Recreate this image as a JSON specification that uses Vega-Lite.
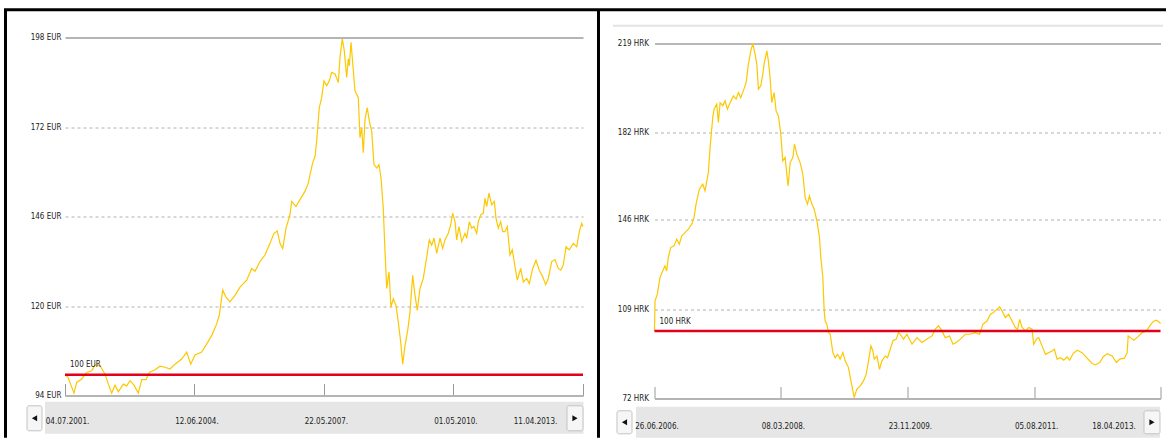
{
  "$schema": "https://vega.github.io/schema/vega-lite/v6.json",
  "background": "white",
  "padding": {"left": 2, "top": 7.5, "right": 0, "bottom": 0},
  "spacing": -4.5,
  "config": {"view": {"stroke": null}},
  "datasets": {
    "eur": [
      {"t":2001.504,"v":100.0},{"t":2001.572,"v":99.3},{"t":2001.708,"v":94.7},{"t":2001.770,"v":97.8},{"t":2001.883,"v":98.8},{"t":2001.997,"v":100.7},{"t":2002.111,"v":101.2},{"t":2002.186,"v":102.9},{"t":2002.299,"v":102.7},{"t":2002.413,"v":100.2},{"t":2002.488,"v":97.3},{"t":2002.565,"v":94.7},{"t":2002.640,"v":97.0},{"t":2002.715,"v":95.1},{"t":2002.829,"v":97.3},{"t":2002.906,"v":96.8},{"t":2002.981,"v":98.3},{"t":2003.072,"v":97.0},{"t":2003.170,"v":94.7},{"t":2003.247,"v":98.6},{"t":2003.344,"v":98.6},{"t":2003.419,"v":100.7},{"t":2003.549,"v":101.5},{"t":2003.663,"v":102.5},{"t":2003.776,"v":102.2},{"t":2003.890,"v":101.7},{"t":2004.003,"v":103.1},{"t":2004.156,"v":104.6},{"t":2004.269,"v":106.6},{"t":2004.360,"v":103.1},{"t":2004.458,"v":105.8},{"t":2004.610,"v":106.6},{"t":2004.724,"v":109.0},{"t":2004.837,"v":111.4},{"t":2004.951,"v":114.8},{"t":2005.010,"v":117.3},{"t":2005.087,"v":124.6},{"t":2005.162,"v":122.6},{"t":2005.253,"v":121.2},{"t":2005.367,"v":123.1},{"t":2005.480,"v":125.5},{"t":2005.633,"v":127.5},{"t":2005.746,"v":130.9},{"t":2005.821,"v":130.1},{"t":2005.935,"v":132.9},{"t":2006.048,"v":134.8},{"t":2006.162,"v":138.2},{"t":2006.253,"v":141.1},{"t":2006.328,"v":141.8},{"t":2006.389,"v":138.2},{"t":2006.451,"v":136.7},{"t":2006.526,"v":142.6},{"t":2006.616,"v":146.5},{"t":2006.655,"v":150.4},{"t":2006.753,"v":148.9},{"t":2006.844,"v":150.9},{"t":2006.957,"v":153.3},{"t":2007.032,"v":155.7},{"t":2007.071,"v":158.2},{"t":2007.132,"v":161.6},{"t":2007.185,"v":163.5},{"t":2007.223,"v":167.9},{"t":2007.282,"v":177.6},{"t":2007.337,"v":180.6},{"t":2007.389,"v":185.4},{"t":2007.450,"v":184.0},{"t":2007.509,"v":185.4},{"t":2007.564,"v":187.9},{"t":2007.639,"v":187.4},{"t":2007.714,"v":184.9},{"t":2007.753,"v":192.3},{"t":2007.805,"v":197.6},{"t":2007.850,"v":194.2},{"t":2007.905,"v":186.4},{"t":2007.941,"v":191.8},{"t":2007.964,"v":189.8},{"t":2008.003,"v":196.6},{"t":2008.055,"v":188.4},{"t":2008.093,"v":182.5},{"t":2008.168,"v":180.6},{"t":2008.207,"v":168.9},{"t":2008.246,"v":171.8},{"t":2008.282,"v":164.5},{"t":2008.321,"v":174.2},{"t":2008.373,"v":177.6},{"t":2008.418,"v":173.8},{"t":2008.473,"v":170.8},{"t":2008.525,"v":161.1},{"t":2008.587,"v":160.1},{"t":2008.639,"v":161.1},{"t":2008.684,"v":157.2},{"t":2008.736,"v":148.4},{"t":2008.775,"v":135.8},{"t":2008.814,"v":125.1},{"t":2008.866,"v":129.9},{"t":2008.911,"v":119.7},{"t":2008.964,"v":122.1},{"t":2009.025,"v":120.2},{"t":2009.077,"v":115.3},{"t":2009.132,"v":109.5},{"t":2009.177,"v":103.1},{"t":2009.229,"v":108.5},{"t":2009.291,"v":112.9},{"t":2009.343,"v":118.2},{"t":2009.404,"v":128.9},{"t":2009.457,"v":123.1},{"t":2009.509,"v":118.7},{"t":2009.570,"v":125.1},{"t":2009.645,"v":128.0},{"t":2009.723,"v":134.3},{"t":2009.782,"v":139.2},{"t":2009.836,"v":137.7},{"t":2009.889,"v":139.7},{"t":2009.950,"v":135.3},{"t":2010.025,"v":139.7},{"t":2010.086,"v":136.7},{"t":2010.138,"v":139.2},{"t":2010.213,"v":141.1},{"t":2010.268,"v":143.6},{"t":2010.313,"v":147.0},{"t":2010.366,"v":144.5},{"t":2010.404,"v":139.2},{"t":2010.456,"v":143.1},{"t":2010.518,"v":138.7},{"t":2010.593,"v":141.1},{"t":2010.632,"v":139.7},{"t":2010.691,"v":144.5},{"t":2010.745,"v":142.6},{"t":2010.797,"v":143.1},{"t":2010.859,"v":141.1},{"t":2010.895,"v":144.5},{"t":2010.950,"v":146.5},{"t":2011.009,"v":147.0},{"t":2011.047,"v":151.3},{"t":2011.086,"v":148.9},{"t":2011.138,"v":152.8},{"t":2011.199,"v":149.4},{"t":2011.259,"v":150.4},{"t":2011.297,"v":145.5},{"t":2011.349,"v":142.6},{"t":2011.404,"v":144.5},{"t":2011.450,"v":141.6},{"t":2011.502,"v":141.6},{"t":2011.554,"v":143.1},{"t":2011.615,"v":134.8},{"t":2011.668,"v":136.3},{"t":2011.729,"v":131.4},{"t":2011.781,"v":127.5},{"t":2011.858,"v":130.9},{"t":2011.918,"v":127.0},{"t":2011.995,"v":128.0},{"t":2012.054,"v":126.5},{"t":2012.131,"v":130.9},{"t":2012.206,"v":133.3},{"t":2012.281,"v":130.4},{"t":2012.358,"v":128.5},{"t":2012.426,"v":126.2},{"t":2012.485,"v":128.0},{"t":2012.563,"v":132.9},{"t":2012.638,"v":133.5},{"t":2012.713,"v":130.9},{"t":2012.767,"v":130.4},{"t":2012.826,"v":131.9},{"t":2012.888,"v":137.2},{"t":2012.963,"v":136.3},{"t":2013.054,"v":138.2},{"t":2013.131,"v":137.2},{"t":2013.190,"v":141.6},{"t":2013.245,"v":144.0},{"t":2013.274,"v":143.1}
    ],
    "hrk": [
      {"t":2006.482,"v":100.0},{"t":2006.489,"v":112.4},{"t":2006.520,"v":115.2},{"t":2006.556,"v":122.1},{"t":2006.592,"v":124.8},{"t":2006.623,"v":126.9},{"t":2006.646,"v":124.8},{"t":2006.668,"v":130.4},{"t":2006.700,"v":134.5},{"t":2006.745,"v":135.2},{"t":2006.781,"v":138.0},{"t":2006.816,"v":135.9},{"t":2006.848,"v":139.3},{"t":2006.893,"v":140.7},{"t":2006.937,"v":142.1},{"t":2006.983,"v":144.2},{"t":2007.014,"v":146.9},{"t":2007.041,"v":152.5},{"t":2007.086,"v":158.7},{"t":2007.131,"v":160.8},{"t":2007.162,"v":158.0},{"t":2007.207,"v":165.6},{"t":2007.230,"v":175.9},{"t":2007.266,"v":188.3},{"t":2007.284,"v":191.8},{"t":2007.320,"v":193.9},{"t":2007.342,"v":186.3},{"t":2007.365,"v":194.5},{"t":2007.401,"v":193.2},{"t":2007.432,"v":195.3},{"t":2007.463,"v":191.8},{"t":2007.499,"v":194.5},{"t":2007.544,"v":197.3},{"t":2007.580,"v":196.0},{"t":2007.611,"v":198.7},{"t":2007.643,"v":196.6},{"t":2007.678,"v":199.4},{"t":2007.715,"v":202.8},{"t":2007.746,"v":210.5},{"t":2007.778,"v":216.0},{"t":2007.805,"v":219.0},{"t":2007.836,"v":214.6},{"t":2007.859,"v":210.5},{"t":2007.881,"v":200.1},{"t":2007.913,"v":201.5},{"t":2007.940,"v":206.3},{"t":2007.957,"v":210.5},{"t":2007.994,"v":216.0},{"t":2008.015,"v":211.8},{"t":2008.038,"v":204.9},{"t":2008.061,"v":194.5},{"t":2008.092,"v":198.7},{"t":2008.119,"v":191.1},{"t":2008.150,"v":189.0},{"t":2008.182,"v":181.5},{"t":2008.209,"v":170.4},{"t":2008.240,"v":171.8},{"t":2008.263,"v":164.9},{"t":2008.281,"v":160.0},{"t":2008.308,"v":169.7},{"t":2008.344,"v":171.8},{"t":2008.366,"v":177.3},{"t":2008.398,"v":173.2},{"t":2008.442,"v":169.7},{"t":2008.479,"v":164.9},{"t":2008.510,"v":155.2},{"t":2008.541,"v":152.5},{"t":2008.568,"v":155.9},{"t":2008.600,"v":152.5},{"t":2008.631,"v":150.4},{"t":2008.668,"v":145.6},{"t":2008.703,"v":138.6},{"t":2008.721,"v":130.4},{"t":2008.748,"v":122.1},{"t":2008.766,"v":108.3},{"t":2008.779,"v":104.1},{"t":2008.802,"v":102.8},{"t":2008.824,"v":99.3},{"t":2008.847,"v":98.6},{"t":2008.883,"v":91.0},{"t":2008.914,"v":88.9},{"t":2008.945,"v":90.3},{"t":2008.981,"v":88.3},{"t":2009.018,"v":91.0},{"t":2009.049,"v":87.6},{"t":2009.093,"v":84.8},{"t":2009.126,"v":79.3},{"t":2009.170,"v":72.4},{"t":2009.206,"v":75.9},{"t":2009.251,"v":77.2},{"t":2009.295,"v":79.3},{"t":2009.332,"v":82.1},{"t":2009.363,"v":87.6},{"t":2009.395,"v":93.8},{"t":2009.422,"v":91.7},{"t":2009.440,"v":88.3},{"t":2009.476,"v":89.6},{"t":2009.511,"v":84.1},{"t":2009.543,"v":87.6},{"t":2009.588,"v":89.6},{"t":2009.619,"v":88.9},{"t":2009.655,"v":92.4},{"t":2009.692,"v":95.9},{"t":2009.736,"v":96.6},{"t":2009.767,"v":99.3},{"t":2009.790,"v":98.6},{"t":2009.834,"v":96.6},{"t":2009.880,"v":98.6},{"t":2009.948,"v":94.5},{"t":2010.015,"v":97.2},{"t":2010.082,"v":95.2},{"t":2010.150,"v":96.6},{"t":2010.217,"v":97.9},{"t":2010.261,"v":100.7},{"t":2010.306,"v":102.1},{"t":2010.352,"v":100.0},{"t":2010.396,"v":97.2},{"t":2010.454,"v":97.9},{"t":2010.500,"v":94.5},{"t":2010.544,"v":95.2},{"t":2010.598,"v":96.6},{"t":2010.666,"v":98.6},{"t":2010.733,"v":98.6},{"t":2010.800,"v":99.3},{"t":2010.858,"v":98.6},{"t":2010.904,"v":102.8},{"t":2010.958,"v":104.1},{"t":2011.003,"v":106.9},{"t":2011.047,"v":107.6},{"t":2011.093,"v":109.0},{"t":2011.128,"v":109.9},{"t":2011.160,"v":108.3},{"t":2011.205,"v":105.5},{"t":2011.249,"v":106.9},{"t":2011.295,"v":104.1},{"t":2011.339,"v":101.4},{"t":2011.370,"v":100.7},{"t":2011.397,"v":104.8},{"t":2011.430,"v":101.4},{"t":2011.474,"v":100.0},{"t":2011.519,"v":101.4},{"t":2011.564,"v":100.7},{"t":2011.586,"v":94.5},{"t":2011.622,"v":96.6},{"t":2011.653,"v":97.2},{"t":2011.699,"v":93.8},{"t":2011.744,"v":90.3},{"t":2011.788,"v":91.0},{"t":2011.834,"v":91.7},{"t":2011.865,"v":92.4},{"t":2011.901,"v":88.3},{"t":2011.946,"v":88.9},{"t":2011.990,"v":87.9},{"t":2012.036,"v":89.2},{"t":2012.071,"v":87.9},{"t":2012.117,"v":90.6},{"t":2012.171,"v":92.0},{"t":2012.238,"v":91.0},{"t":2012.305,"v":88.7},{"t":2012.373,"v":86.5},{"t":2012.417,"v":85.9},{"t":2012.475,"v":86.9},{"t":2012.521,"v":89.2},{"t":2012.575,"v":90.6},{"t":2012.642,"v":89.6},{"t":2012.700,"v":86.9},{"t":2012.745,"v":88.3},{"t":2012.808,"v":88.7},{"t":2012.844,"v":91.0},{"t":2012.858,"v":97.9},{"t":2012.889,"v":97.2},{"t":2012.933,"v":96.1},{"t":2012.987,"v":97.5},{"t":2013.047,"v":99.3},{"t":2013.104,"v":100.0},{"t":2013.149,"v":102.1},{"t":2013.195,"v":103.9},{"t":2013.239,"v":104.4},{"t":2013.284,"v":103.4},{"t":2013.293,"v":103.0}
    ]
  },
  "hconcat": [
    {
      "width": 518,
      "height": 358,
      "layer": [
        {
          "data": {"values": [{}]},
          "mark": {"type": "rect", "color": "#e6e6e6"},
          "encoding": {
            "x": {"datum": 2001.05, "type": "quantitative", "scale": {"domain": [2001.504, 2013.274], "nice": false, "zero": false}, "title": null},
            "x2": {"datum": 2013.285},
            "y": {"datum": 92.17, "type": "quantitative", "scale": {"domain": [94, 198], "nice": false, "zero": false}, "title": null},
            "y2": {"datum": 82.87}
          }
        },
        {
          "data": {"values": [{}]},
          "mark": {"type": "rect", "fill": "#f6f6f6", "stroke": "#c4c4c4", "strokeWidth": 1, "cornerRadius": 2},
          "encoding": {
            "x": {"datum": 2000.641, "type": "quantitative", "scale": {"domain": [2001.504, 2013.274], "nice": false, "zero": false}, "title": null},
            "x2": {"datum": 2000.981},
            "y": {"datum": 91.01, "type": "quantitative", "scale": {"domain": [94, 198], "nice": false, "zero": false}, "title": null},
            "y2": {"datum": 83.75}
          }
        },
        {
          "data": {"values": [{}]},
          "mark": {"type": "rect", "fill": "#f6f6f6", "stroke": "#c4c4c4", "strokeWidth": 1, "cornerRadius": 2},
          "encoding": {
            "x": {"datum": 2012.91, "type": "quantitative", "scale": {"domain": [2001.504, 2013.274], "nice": false, "zero": false}, "title": null},
            "x2": {"datum": 2013.274},
            "y": {"datum": 91.01, "type": "quantitative", "scale": {"domain": [94, 198], "nice": false, "zero": false}, "title": null},
            "y2": {"datum": 83.75}
          }
        },
        {
          "data": {"values": [{}]},
          "mark": {"type": "point", "shape": "triangle-left", "filled": true, "color": "#111", "size": 36, "opacity": 1},
          "encoding": {
            "x": {"datum": 2000.811, "type": "quantitative", "scale": {"domain": [2001.504, 2013.274], "nice": false, "zero": false}, "title": null},
            "y": {"datum": 87.38, "type": "quantitative", "scale": {"domain": [94, 198], "nice": false, "zero": false}, "title": null}
          }
        },
        {
          "data": {"values": [{}]},
          "mark": {"type": "point", "shape": "triangle-right", "filled": true, "color": "#111", "size": 36, "opacity": 1},
          "encoding": {
            "x": {"datum": 2013.092, "type": "quantitative", "scale": {"domain": [2001.504, 2013.274], "nice": false, "zero": false}, "title": null},
            "y": {"datum": 87.38, "type": "quantitative", "scale": {"domain": [94, 198], "nice": false, "zero": false}, "title": null}
          }
        },
        {
          "data": {"name": "eur"},
          "mark": {"type": "line", "color": "#fcc800", "strokeWidth": 1.2},
          "encoding": {
            "x": {
              "field": "t", "type": "quantitative",
              "scale": {"domain": [2001.504, 2013.274], "nice": false, "zero": false},
              "axis": {
                "title": null, "grid": false, "zindex": 2,
                "values": [2001.504, 2004.445, 2007.386, 2010.329, 2013.274],
                "labelExpr": "datum.value < 2003 ? '04.07.2001.' : datum.value < 2006 ? '12.06.2004.' : datum.value < 2009 ? '22.05.2007.' : datum.value < 2012 ? '01.05.2010.' : '11.04.2013.'",
                "domainColor": "#b4b4b4", "domainWidth": 2,
                "tickColor": "#9a9a9a", "tickWidth": 1, "tickSize": -12,
                "labelPadding": 34, "labelFlush": false, "labelOverlap": false,
                "labelFont": "Liberation Sans Narrow, DejaVu Sans Condensed, sans-serif", "labelFontSize": 8, "labelColor": "#222",
                "labelOffset": {"condition": {"test": "datum.value > 2013", "value": -48}, "value": 2}
              }
            },
            "y": {
              "field": "v", "type": "quantitative",
              "scale": {"domain": [94, 198], "nice": false, "zero": false},
              "axis": {
                "title": null, "domain": false, "ticks": false, "labelPadding": 4,
                "values": [94, 120, 146, 172, 198],
                "labelExpr": "datum.value + ' EUR'",
                "labelFont": "Liberation Sans Narrow, DejaVu Sans Condensed, sans-serif", "labelFontSize": 8, "labelColor": "#222",
                "labelFlush": false,
                "grid": true,
                "gridColor": {"condition": {"test": "datum.value == 198", "value": "#9c9c9c"}, "value": "#b0b0b0"},
                "gridDash": {"condition": {"test": "datum.value == 198", "value": []}, "value": [3, 3]},
                "gridWidth": {"condition": {"test": "datum.value == 198", "value": 1.5}, "value": 1}
              }
            }
          }
        },
        {
          "data": {"values": [{}]},
          "mark": {"type": "rule", "color": "#e2001a", "strokeWidth": 2.5},
          "encoding": {
            "y": {"datum": 100, "type": "quantitative", "scale": {"domain": [94, 198], "nice": false, "zero": false}, "title": null}
          }
        },
        {
          "data": {"values": [{}]},
          "mark": {"type": "text", "text": "100 EUR", "align": "left", "baseline": "middle", "dx": 5, "dy": -10, "font": "Liberation Sans Narrow, DejaVu Sans Condensed, sans-serif", "fontSize": 8, "color": "#222"},
          "encoding": {
            "x": {"datum": 2001.504, "type": "quantitative", "scale": {"domain": [2001.504, 2013.274], "nice": false, "zero": false}, "title": null},
            "y": {"datum": 100, "type": "quantitative", "scale": {"domain": [94, 198], "nice": false, "zero": false}, "title": null}
          }
        },
        {
          "data": {"values": [{}]},
          "mark": {"type": "rule", "color": "#000", "strokeWidth": 3},
          "encoding": {
            "x": {"datum": 2000.118, "type": "quantitative", "scale": {"domain": [2001.504, 2013.274], "nice": false, "zero": false}, "title": null},
            "x2": {"datum": 2013.66},
            "y": {"datum": 206.05, "type": "quantitative", "scale": {"domain": [94, 198], "nice": false, "zero": false}, "title": null}
          }
        },
        {
          "data": {"values": [{}]},
          "mark": {"type": "rule", "color": "#000", "strokeWidth": 3},
          "encoding": {
            "x": {"datum": 2000.152, "type": "quantitative", "scale": {"domain": [2001.504, 2013.274], "nice": false, "zero": false}, "title": null},
            "y": {"datum": 206.05, "type": "quantitative", "scale": {"domain": [94, 198], "nice": false, "zero": false}, "title": null},
            "y2": {"datum": 81.71}
          }
        },
        {
          "data": {"values": [{}]},
          "mark": {"type": "rule", "color": "#000", "strokeWidth": 3},
          "encoding": {
            "x": {"datum": 2013.626, "type": "quantitative", "scale": {"domain": [2001.504, 2013.274], "nice": false, "zero": false}, "title": null},
            "y": {"datum": 206.05, "type": "quantitative", "scale": {"domain": [94, 198], "nice": false, "zero": false}, "title": null},
            "y2": {"datum": 81.71}
          }
        }
      ]
    },
    {
      "width": 506,
      "height": 361,
      "layer": [
        {
          "data": {"values": [{}]},
          "mark": {"type": "rule", "color": "#e3e3e3", "strokeWidth": 2},
          "encoding": {
            "x": {"datum": 2005.923, "type": "quantitative", "scale": {"domain": [2006.482, 2013.293], "nice": false, "zero": false}, "title": null},
            "x2": {"datum": 2013.326},
            "y": {"datum": 226.35, "type": "quantitative", "scale": {"domain": [72, 221.5], "nice": false, "zero": false}, "title": null}
          }
        },
        {
          "data": {"values": [{}]},
          "mark": {"type": "rule", "color": "#000", "strokeWidth": 3},
          "encoding": {
            "x": {"datum": 2005.748, "type": "quantitative", "scale": {"domain": [2006.482, 2013.293], "nice": false, "zero": false}, "title": null},
            "x2": {"datum": 2013.367},
            "y": {"datum": 232.97, "type": "quantitative", "scale": {"domain": [72, 221.5], "nice": false, "zero": false}, "title": null}
          }
        },
        {
          "data": {"values": [{}]},
          "mark": {"type": "rect", "color": "#e6e6e6"},
          "encoding": {
            "x": {"datum": 2006.233, "type": "quantitative", "scale": {"domain": [2006.482, 2013.293], "nice": false, "zero": false}, "title": null},
            "x2": {"datum": 2013.286},
            "y": {"datum": 68.56, "type": "quantitative", "scale": {"domain": [72, 221.5], "nice": false, "zero": false}, "title": null},
            "y2": {"datum": 55.72}
          }
        },
        {
          "data": {"values": [{}]},
          "mark": {"type": "rect", "fill": "#f6f6f6", "stroke": "#c4c4c4", "strokeWidth": 1, "cornerRadius": 2},
          "encoding": {
            "x": {"datum": 2005.977, "type": "quantitative", "scale": {"domain": [2006.482, 2013.293], "nice": false, "zero": false}, "title": null},
            "x2": {"datum": 2006.179},
            "y": {"datum": 66.91, "type": "quantitative", "scale": {"domain": [72, 221.5], "nice": false, "zero": false}, "title": null},
            "y2": {"datum": 57.38}
          }
        },
        {
          "data": {"values": [{}]},
          "mark": {"type": "rect", "fill": "#f6f6f6", "stroke": "#c4c4c4", "strokeWidth": 1, "cornerRadius": 2},
          "encoding": {
            "x": {"datum": 2013.071, "type": "quantitative", "scale": {"domain": [2006.482, 2013.293], "nice": false, "zero": false}, "title": null},
            "x2": {"datum": 2013.286},
            "y": {"datum": 66.91, "type": "quantitative", "scale": {"domain": [72, 221.5], "nice": false, "zero": false}, "title": null},
            "y2": {"datum": 57.38}
          }
        },
        {
          "data": {"values": [{}]},
          "mark": {"type": "point", "shape": "triangle-left", "filled": true, "color": "#111", "size": 36, "opacity": 1},
          "encoding": {
            "x": {"datum": 2006.078, "type": "quantitative", "scale": {"domain": [2006.482, 2013.293], "nice": false, "zero": false}, "title": null},
            "y": {"datum": 62.14, "type": "quantitative", "scale": {"domain": [72, 221.5], "nice": false, "zero": false}, "title": null}
          }
        },
        {
          "data": {"values": [{}]},
          "mark": {"type": "point", "shape": "triangle-right", "filled": true, "color": "#111", "size": 36, "opacity": 1},
          "encoding": {
            "x": {"datum": 2013.178, "type": "quantitative", "scale": {"domain": [2006.482, 2013.293], "nice": false, "zero": false}, "title": null},
            "y": {"datum": 62.14, "type": "quantitative", "scale": {"domain": [72, 221.5], "nice": false, "zero": false}, "title": null}
          }
        },
        {
          "data": {"name": "hrk"},
          "mark": {"type": "line", "color": "#fcc800", "strokeWidth": 1.2},
          "encoding": {
            "x": {
              "field": "t", "type": "quantitative",
              "scale": {"domain": [2006.482, 2013.293], "nice": false, "zero": false},
              "axis": {
                "title": null, "grid": false, "zindex": 2,
                "values": [2006.482, 2008.183, 2009.893, 2011.592, 2013.293],
                "labelExpr": "datum.value < 2007 ? '26.06.2006.' : datum.value < 2009 ? '08.03.2008.' : datum.value < 2011 ? '23.11.2009.' : datum.value < 2013 ? '05.08.2011.' : '18.04.2013.'",
                "domainColor": "#b4b4b4", "domainWidth": 2,
                "tickColor": "#9a9a9a", "tickWidth": 1, "tickSize": -12,
                "labelPadding": 35.5, "labelFlush": false, "labelOverlap": false,
                "labelFont": "Liberation Sans Narrow, DejaVu Sans Condensed, sans-serif", "labelFontSize": 8, "labelColor": "#222",
                "labelOffset": {"condition": {"test": "datum.value > 2013", "value": -47}, "value": 2}
              }
            },
            "y": {
              "field": "v", "type": "quantitative",
              "scale": {"domain": [72, 221.5], "nice": false, "zero": false},
              "axis": {
                "title": null, "domain": false, "ticks": false, "labelPadding": 6,
                "values": [72, 109, 146, 182, 219],
                "labelExpr": "datum.value + ' HRK'",
                "labelFont": "Liberation Sans Narrow, DejaVu Sans Condensed, sans-serif", "labelFontSize": 8, "labelColor": "#222",
                "labelFlush": false,
                "grid": true,
                "gridColor": {"condition": {"test": "datum.value == 219", "value": "#b8b8b8"}, "value": "#b0b0b0"},
                "gridDash": {"condition": {"test": "datum.value == 219", "value": []}, "value": [3, 3]},
                "gridWidth": {"condition": {"test": "datum.value == 219", "value": 2}, "value": 1}
              }
            }
          }
        },
        {
          "data": {"values": [{}]},
          "mark": {"type": "rule", "color": "#e2001a", "strokeWidth": 2.5},
          "encoding": {
            "y": {"datum": 100, "type": "quantitative", "scale": {"domain": [72, 221.5], "nice": false, "zero": false}, "title": null}
          }
        },
        {
          "data": {"values": [{}]},
          "mark": {"type": "text", "text": "100 HRK", "align": "left", "baseline": "middle", "dx": 5, "dy": -9, "font": "Liberation Sans Narrow, DejaVu Sans Condensed, sans-serif", "fontSize": 8, "color": "#222"},
          "encoding": {
            "x": {"datum": 2006.482, "type": "quantitative", "scale": {"domain": [2006.482, 2013.293], "nice": false, "zero": false}, "title": null},
            "y": {"datum": 100, "type": "quantitative", "scale": {"domain": [72, 221.5], "nice": false, "zero": false}, "title": null}
          }
        }
      ]
    }
  ]
}
